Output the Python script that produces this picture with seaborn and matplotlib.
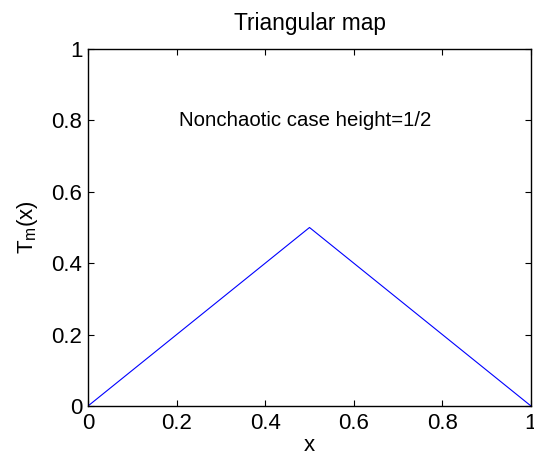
import matplotlib
matplotlib.use("Agg")
import matplotlib.pyplot as plt
import seaborn as sns
import pandas as pd

# Tent map with peak height 1/2
x_vals = [0.0, 0.5, 1.0]
t_vals = [0.0, 0.5, 0.0]
tick_vals = [0, 0.2, 0.4, 0.6, 0.8, 1]
tick_labels = ["0", "0.2", "0.4", "0.6", "0.8", "1"]

sns.set_style("white")
plt.rcParams["font.family"] = ["Liberation Sans", "DejaVu Sans"]
plt.rcParams["text.color"] = "black"
plt.rcParams["axes.labelcolor"] = "black"

df = pd.DataFrame({"x": x_vals, "T": t_vals})

W, H = 534, 462
left, right, top, bottom = 88, 531, 49, 406
fig = plt.figure(figsize=(W / 100, H / 100), dpi=100)
ax = fig.add_axes([left / W, 1 - bottom / H, (right - left) / W, (bottom - top) / H])

sns.lineplot(data=df, x="x", y="T", ax=ax, color="#0000ff", linewidth=0.8,
             estimator=None, sort=False)

ax.set_xlim(0, 1)
ax.set_ylim(0, 1)
ax.set_xticks(tick_vals)
ax.set_xticklabels(tick_labels)
ax.set_yticks(tick_vals)
ax.set_yticklabels(tick_labels)
ax.tick_params(direction="in", length=4, width=0.8, labelsize=16,
               top=True, right=True, bottom=True, left=True, colors="black")
ax.tick_params(axis="x", pad=5)
ax.tick_params(axis="y", pad=4)
for s in ax.spines.values():
    s.set_color("black")
    s.set_linewidth(1.0)

ax.set_title("Triangular map", fontsize=16.4, pad=14, color="black")
ax.set_xlabel("x", fontsize=16, labelpad=1, color="black")
ax.set_ylabel(r"T$_\mathregular{m}$(x)", fontsize=16, labelpad=8, color="black")
ax.text(0.49, 0.8, "Nonchaotic case height=1/2", ha="center", va="center",
        fontsize=14.7, color="black")

fig.savefig("out.png", dpi=100)
